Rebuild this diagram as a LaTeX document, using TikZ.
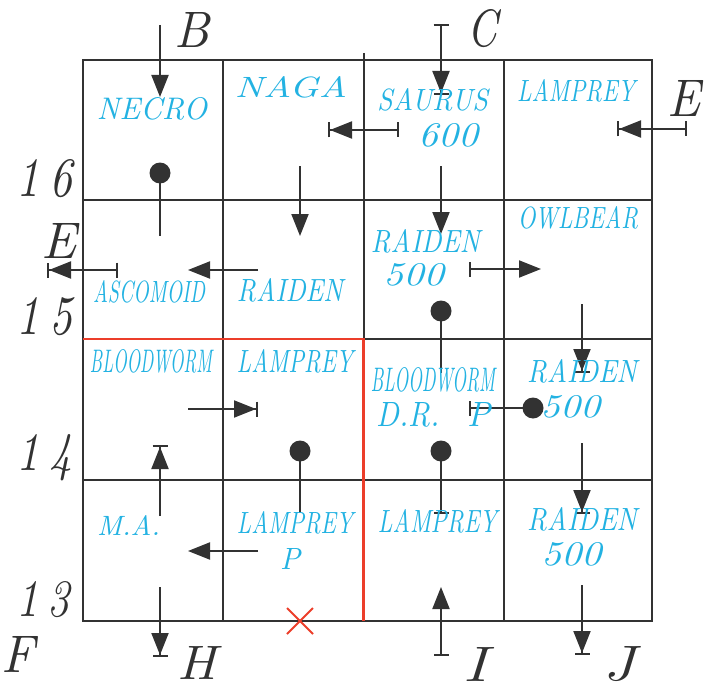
\documentclass[tikz,border=0pt]{standalone}
\usepackage{graphicx}
\usetikzlibrary{arrows.meta}
\definecolor{ink}{RGB}{50,50,50}
\definecolor{cy}{RGB}{35,178,226}
\definecolor{rd}{RGB}{236,62,42}
\newcommand\lbl[3]{\resizebox{#1pt}{#2pt}{\itshape #3}}
\tikzset{
  gridline/.style={draw=ink,line width=2pt},
  redline/.style={draw=rd,line width=2.6pt},
  lab/.style={inner sep=0pt,outer sep=0pt,anchor=center},
  clab/.style={lab,text=cy},
  blab/.style={lab,text=ink},
  arr/.style={draw=ink,line width=2pt,-{Triangle[length=22pt,width=17pt]}},
  arrb/.style={draw=ink,line width=2pt,-{Triangle[length=22pt,width=17pt]Bar[width=15pt]}},
  barr/.style={draw=ink,line width=2pt,{Bar[width=15pt]}-{Triangle[length=22pt,width=17pt]}},
  barrb/.style={draw=ink,line width=2pt,{Bar[width=15pt]}-{Triangle[length=22pt,width=17pt]Bar[width=15pt]}},
  barend/.style={draw=ink,line width=2pt,-{Bar[width=15pt]}},
  plain/.style={draw=ink,line width=2pt},
  dotc/.style={fill=ink},
}
\begin{document}
\begin{tikzpicture}[x=1pt,y=-1pt]
\useasboundingbox (0,0) rectangle (712,690);
% grid
\coordinate (g00) at (83,60);
\coordinate (g44) at (652,621);
\draw[gridline] (g00) rectangle (g44);
\draw[gridline] (222.5,60) -- (222.5,621);
\draw[gridline] (363.5,53) -- (363.5,621);
\draw[gridline] (504,60) -- (504,621);
\draw[gridline] (83,200) -- (652,200);
\draw[gridline] (83,339) -- (652,339);
\draw[gridline] (83,480) -- (652,480);
% red boundary
\draw[redline] (83,339) coordinate (r0) -- (363.5,339) coordinate (r1) -- (363.5,621) coordinate (r2);
% red cross
\coordinate (xc) at (300,621);
\draw[rd,line width=2pt] ([shift={(-13,-13)}]xc) -- ([shift={(13,13)}]xc);
\draw[rd,line width=2pt] ([shift={(-13,13)}]xc) -- ([shift={(13,-13)}]xc);

% arrows
\draw[arr]   (160,25) coordinate (a1s) -- (160,97) coordinate (a1e);
\draw[barrb] (441,24) coordinate (a2s) -- (441,95) coordinate (a2e);
\draw[barrb] (399,130) coordinate (a3s) -- (328,130) coordinate (a3e);
\draw[barrb] (687,129) coordinate (a4s) -- (617,129) coordinate (a4e);
\draw[plain] (160,173) coordinate (a5s) -- (160,236) coordinate (a5e);
\fill[dotc] (a5s) circle (10.5pt);
\draw[arr]   (300,166) coordinate (a6s) -- (300,236) coordinate (a6e);
\draw[arr]   (441,166) coordinate (a7s) -- (441,234) coordinate (a7e);
\draw[barrb] (118,270) coordinate (a8s) -- (47,270) coordinate (a8e);
\draw[arr]   (258,270) coordinate (a9s) -- (188,270) coordinate (a9e);
\draw[barr]  (469,269) coordinate (a10s) -- (541,269) coordinate (a10e);
\draw[arrb]  (582,304) coordinate (a11s) -- (582,373) coordinate (a11e);
\draw[plain] (441,311) coordinate (a12s) -- (441,373) coordinate (a12e);
\fill[dotc] (a12s) circle (10.5pt);
\draw[barend] (533,408) coordinate (a13s) -- (469,408) coordinate (a13e);
\fill[dotc] (a13s) circle (10.5pt);
\draw[arrb]  (188,409) coordinate (a14s) -- (258,409) coordinate (a14e);
\draw[plain] (300,451) coordinate (a15s) -- (300,513) coordinate (a15e);
\fill[dotc] (a15s) circle (10.5pt);
\draw[barend] (441,451) coordinate (a16s) -- (441,514) coordinate (a16e);
\fill[dotc] (a16s) circle (10.5pt);
\draw[arrb]  (160,516) coordinate (a17s) -- (160,445) coordinate (a17e);
\draw[arr]   (258,551) coordinate (a18s) -- (188,551) coordinate (a18e);
\draw[arrb]  (160,587) coordinate (a19s) -- (160,657) coordinate (a19e);
\draw[barr]  (441,656) coordinate (a20s) -- (441,587) coordinate (a20e);
\draw[arrb]  (582,443) coordinate (a21s) -- (582,514) coordinate (a21e);
\draw[arrb]  (582,585) coordinate (a22s) -- (582,655) coordinate (a22e);

% cyan labels
\node[clab] (necro) at (152,109) {\lbl{110}{22}{NECRO}};
\node[clab] (naga) at (291,87.5) {\lbl{112}{21}{NAGA}};
\node[clab] (saurus) at (432.5,100) {\lbl{111}{22}{SAURUS}};
\node[clab] (s600) at (448,135.5) {\lbl{60}{23}{600}};
\node[clab] (lamp1) at (576,91) {\lbl{118}{22}{LAMPREY}};
\node[clab] (owl) at (578,218) {\lbl{120}{22}{OWLBEAR}};
\node[clab] (raid1) at (425.5,241.5) {\lbl{109}{23}{RAIDEN}};
\node[clab] (r500a) at (413.5,275) {\lbl{61}{22}{500}};
\node[clab] (asco) at (149,292) {\lbl{112}{22}{ASCOMOID}};
\node[clab] (raid2) at (290,290.5) {\lbl{106}{23}{RAIDEN}};
\node[clab] (blood1) at (151,361.5) {\lbl{122}{23}{BLOODWORM}};
\node[clab] (lamp2) at (295,361) {\lbl{116}{23}{LAMPREY}};
\node[clab] (blood2) at (433,380) {\lbl{124}{24}{BLOODWORM}};
\node[clab] (dr) at (408.5,414.5) {\lbl{63}{24}{D.R.}};
\node[clab] (p1) at (478.5,414.5) {\lbl{23}{24}{P}};
\node[clab] (raid3) at (582,371.5) {\lbl{110}{23}{RAIDEN}};
\node[clab] (r500b) at (570,406.5) {\lbl{60}{22}{500}};
\node[clab] (ma) at (128.5,525.5) {\lbl{63}{20}{M.A.}};
\node[clab] (lamp3) at (295,523) {\lbl{116}{22}{LAMPREY}};
\node[clab] (p2) at (290,558.5) {\lbl{20}{21}{P}};
\node[clab] (lamp4) at (437.5,521.5) {\lbl{119}{23}{LAMPREY}};
\node[clab] (raid4) at (582,519) {\lbl{110}{23}{RAIDEN}};
\node[clab] (r500c) at (571.5,554.5) {\lbl{61}{23}{500}};

% black labels
\node[blab] (lB) at (192.5,29.5) {\lbl{35}{35}{B}};
\node[blab] (lC) at (482,28.5) {\lbl{30}{37}{C}};
\node[blab] (lE1) at (683.5,98.5) {\lbl{33}{36}{E}};
\node[blab] (lE2) at (59.5,240.5) {\lbl{35}{35}{E}};
\node[blab] (n16) at (44.5,178.5) {\lbl{55}{37}{1\kern2pt6}};
\node[blab] (n15) at (44.5,316.5) {\lbl{55}{37}{1\kern2pt5}};
\node[blab] (n14) at (44.5,458) {\lbl{55}{36}{1\kern2pt4}};
\node[blab] (n13) at (43.5,599.5) {\lbl{53}{35}{1\kern2pt3}};
\node[blab] (lF) at (18.5,654) {\lbl{33}{36}{F}};
\node[blab] (lH) at (197,663) {\lbl{39}{33}{H}};
\node[blab] (lI) at (475,664.5) {\lbl{24}{34}{I}};
\node[blab] (lJ) at (619,664.5) {\lbl{32}{34}{J}};
\end{tikzpicture}
\end{document}
